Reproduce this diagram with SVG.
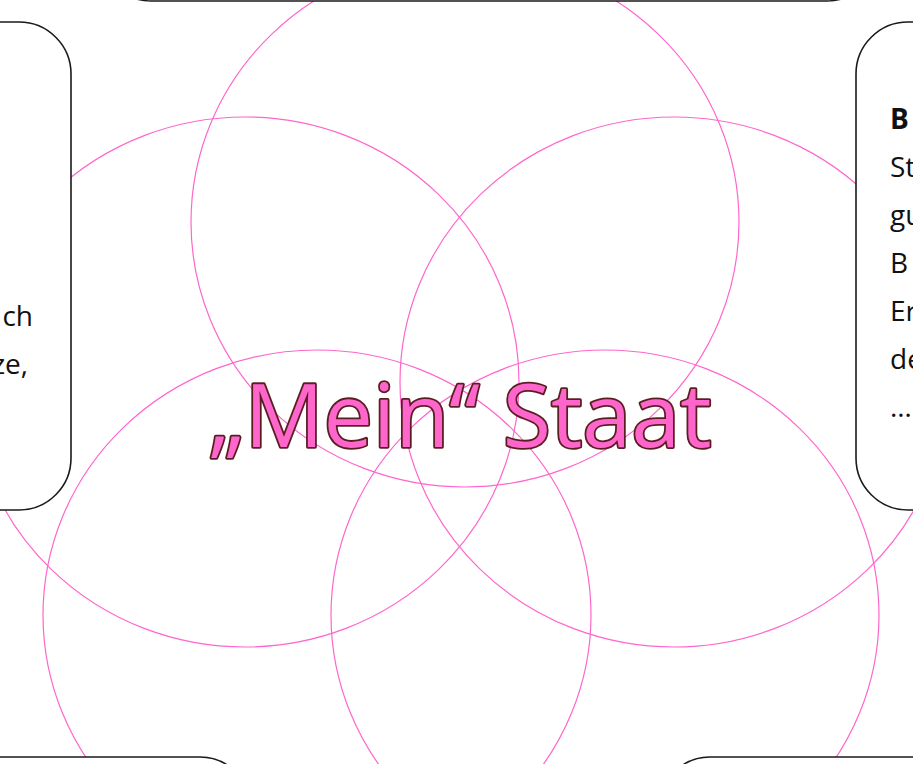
<svg xmlns="http://www.w3.org/2000/svg" width="913" height="764" viewBox="0 0 913 764">
<style>
.ring{fill:none;stroke:#ff66cc;stroke-width:1.2}
.box{fill:#ffffff;stroke:#1a1a1a;stroke-width:1.6}
.body{font-family:"Open Sans","Liberation Sans",sans-serif;font-size:28px;fill:#111111}
.title{font-family:"Open Sans","Liberation Sans",sans-serif;font-size:88px;fill:#ff66cc;stroke:#5a1e22;stroke-width:3.6;paint-order:stroke;stroke-linejoin:round}
</style>
<rect width="913" height="764" fill="#ffffff"/>
<g id="rings">
<ellipse class="ring" cx="465" cy="222" rx="274" ry="265"/>
<ellipse class="ring" cx="245" cy="382" rx="274" ry="265"/>
<ellipse class="ring" cx="674" cy="382" rx="274" ry="265"/>
<ellipse class="ring" cx="317" cy="615" rx="274" ry="265"/>
<ellipse class="ring" cx="605" cy="615" rx="274" ry="265"/>
</g>
<g id="box-top">
<rect class="box" x="101" y="-400" width="776" height="401" rx="50" ry="50"/>
</g>
<g id="box-left">
<rect class="box" x="-400" y="22" width="471" height="488" rx="52" ry="52"/>
<text class="body" x="33" y="326" text-anchor="end">ch</text>
<text class="body" x="28" y="374" text-anchor="end">ze,</text>
</g>
<g id="box-right">
<rect class="box" x="856" y="22" width="400" height="488" rx="52" ry="52"/>
<text class="body" x="890" y="129" font-weight="bold">B</text>
<text class="body" x="890" y="177">St</text>
<text class="body" x="890" y="225">gu</text>
<text class="body" x="890" y="273">B</text>
<text class="body" x="890" y="321">Er</text>
<text class="body" x="890" y="369">de</text>
<text class="body" x="890" y="417">…</text>
</g>
<g id="box-bottom-left">
<rect class="box" x="-400" y="757" width="650" height="300" rx="50" ry="50"/>
</g>
<g id="box-bottom-right">
<rect class="box" x="660" y="757" width="600" height="300" rx="50" ry="50"/>
</g>
<g id="title">
<text class="title" x="460" y="447" text-anchor="middle">„Mein“ Staat</text>
</g>
<g id="connectors"/>
</svg>
